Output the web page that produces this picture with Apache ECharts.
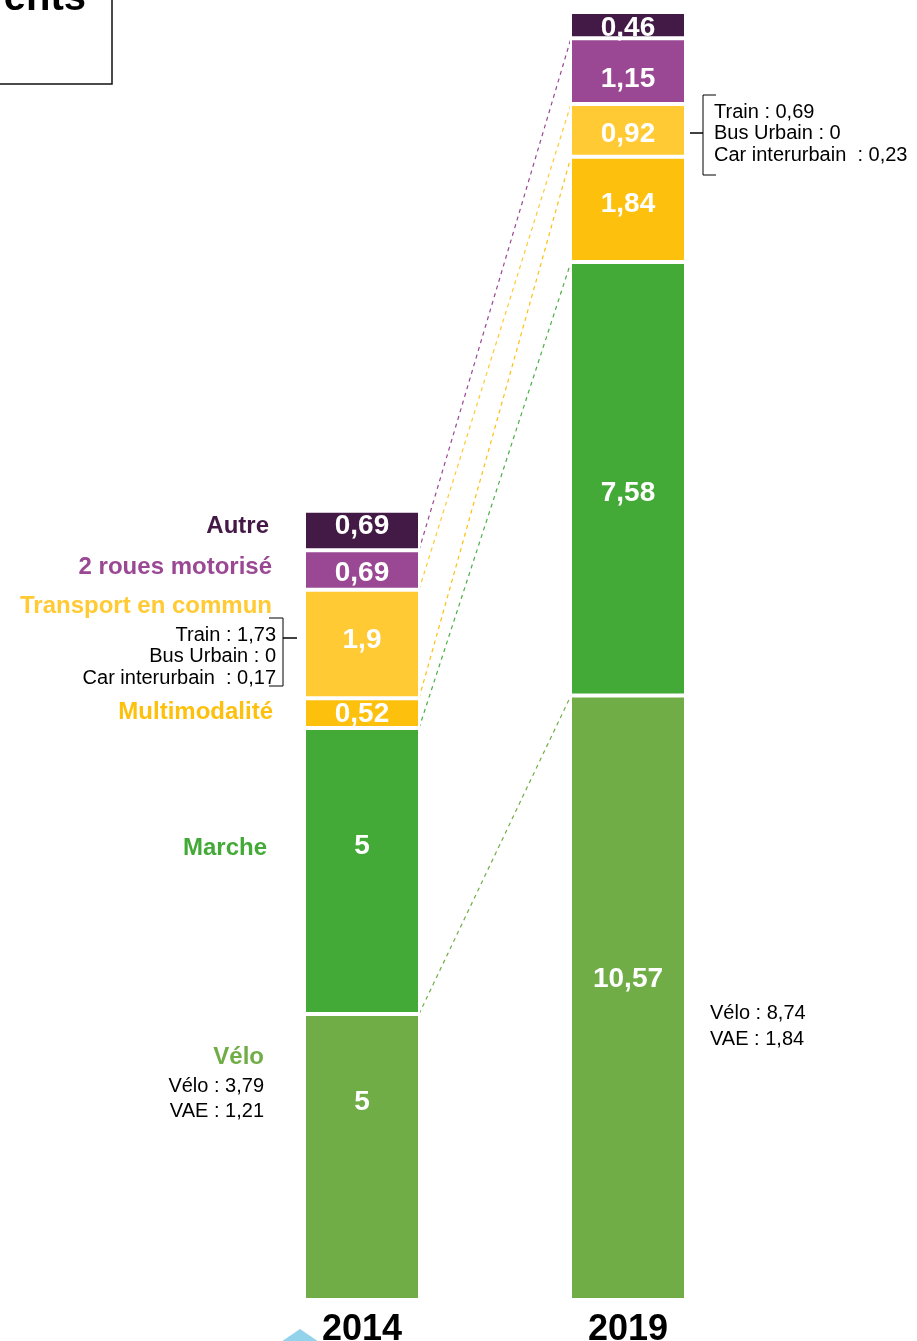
<!DOCTYPE html>
<html><head><meta charset="utf-8">
<script src="https://cdn.jsdelivr.net/npm/echarts@6/dist/echarts.min.js"></script>
<style>html,body{margin:0;padding:0;background:#fff}#c{width:917px;height:1341px}</style>
</head><body><div id="c"></div>
<script>
// ---- data ----
const years = ['2014', '2019'];
const modes = ['Vélo', 'Marche', 'Multimodalité', 'Transport en commun', '2 roues motorisé', 'Autre'];
const velo = [5, 10.57];
const marche = [5, 7.58];
const multimodalite = [0.52, 1.84];
const transportCommun = [1.9, 0.92];
const deuxRoues = [0.69, 1.15];
const autre = [0.69, 0.46];
const detailTC2014 = ['Train : 1,73', 'Bus Urbain : 0', 'Car interurbain  : 0,17'];
const detailTC2019 = ['Train : 0,69', 'Bus Urbain : 0', 'Car interurbain  : 0,23'];
const detailVelo2014 = ['Vélo : 3,79', 'VAE : 1,21'];
const detailVelo2019 = ['Vélo : 8,74', 'VAE : 1,84'];
const titleFragment = 'ents';

// ---- styling / layout ----
const FONT = 'Arial, "Liberation Sans", sans-serif';
const colors = ['#70AD47', '#43AA37', '#FCC00D', '#FFCA33', '#9A4893', '#431A45'];
const lineColors = ['#70AD47', '#4CAF45', '#FCC00D', '#FFCA33', '#9A4893'];
const labelOffsets = [[-55, -18], [-25, 15], [1, -5], [-4, 4], [3, 8], [-4, 3]];
const BAR_W = 116;

const seriesValues = [velo, marche, multimodalite, transportCommun, deuxRoues, autre];

const barSeries = seriesValues.map((vals, i) => ({
  name: modes[i],
  type: 'bar',
  stack: 'total',
  barWidth: BAR_W,
  itemStyle: { color: colors[i], borderColor: '#ffffff', borderWidth: 2 },
  label: {
    show: true, position: 'inside', color: '#ffffff',
    fontFamily: FONT, fontWeight: 'bold', fontSize: 28,
    formatter: p => String(p.value).replace('.', ',')
  },
  data: vals.map((v, j) => ({ value: v, label: { offset: [0, labelOffsets[i][j]] } })),
  z: 3
}));

// cumulative tops of each segment (for the dashed connectors)
const cum = [[], []];
[0, 1].forEach(j => {
  let s = 0;
  seriesValues.forEach((vals, i) => { s += vals[j]; cum[j][i] = s; });
});
const connectorData = [0, 1, 2, 3, 4].map(i => [0, cum[0][i], cum[1][i], i]);

const connectorSeries = {
  type: 'custom',
  silent: true,
  z: 1,
  renderItem: function (params, api) {
    const p1 = api.coord([0, api.value(1)]);
    const p2 = api.coord([1, api.value(2)]);
    const idx = api.value(3);
    return {
      type: 'line',
      shape: { x1: p1[0] + BAR_W / 2 - 1, y1: p1[1], x2: p2[0] - BAR_W / 2 + 1, y2: p2[1] },
      style: { stroke: lineColors[idx], lineWidth: 1.2, lineDash: [4, 4] }
    };
  },
  data: connectorData
};

const leftLabel = (text, x, y, color, size, bold) => ({
  type: 'text', z: 10,
  style: { text, x, y, fill: color, font: (bold ? 'bold ' : '') + size + 'px ' + FONT, align: 'right', verticalAlign: 'middle' }
});
const rightLabel = (text, x, y) => ({
  type: 'text', z: 10,
  style: { text, x, y, fill: '#000', font: '20px ' + FONT, align: 'left', verticalAlign: 'middle' }
});

const graphics = [
  // title box fragment
  { type: 'rect', z: 5, shape: { x: -3, y: -3, width: 115, height: 87 }, style: { fill: '#fff', stroke: '#111', lineWidth: 1.5 } },
  { type: 'text', z: 6, style: { text: titleFragment, x: 86, y: -1, fill: '#000', font: 'bold 40px ' + FONT, align: 'right', verticalAlign: 'middle' } },
  // light blue triangle at bottom
  { type: 'polygon', z: 0, shape: { points: [[275, 1346], [300, 1329], [325, 1346]] }, style: { fill: '#92D3EB' } },
  // 2014 category names
  leftLabel(modes[5], 269, 526, colors[5], 24, true),
  leftLabel(modes[4], 272, 567, colors[4], 24, true),
  leftLabel(modes[3], 272, 606, colors[3], 24, true),
  leftLabel(detailTC2014[0], 276, 635, '#000', 20, false),
  leftLabel(detailTC2014[1], 276, 656, '#000', 20, false),
  leftLabel(detailTC2014[2], 276, 678, '#000', 20, false),
  leftLabel(modes[2], 273, 712, colors[2], 24, true),
  leftLabel(modes[1], 267, 848, colors[1], 24, true),
  leftLabel(modes[0], 264, 1057, colors[0], 24, true),
  leftLabel(detailVelo2014[0], 264, 1086, '#000', 20, false),
  leftLabel(detailVelo2014[1], 264, 1111, '#000', 20, false),
  // 2019 details
  rightLabel(detailTC2019[0], 714, 112),
  rightLabel(detailTC2019[1], 714, 133),
  rightLabel(detailTC2019[2], 714, 155),
  rightLabel(detailVelo2019[0], 710, 1013),
  rightLabel(detailVelo2019[1], 710, 1039),
  // brackets
  { type: 'polyline', z: 10, shape: { points: [[269, 618], [283, 618], [283, 686], [269, 686]] }, style: { stroke: '#000', lineWidth: 1, fill: null } },
  { type: 'line', z: 10, shape: { x1: 283, y1: 638, x2: 297, y2: 638 }, style: { stroke: '#000', lineWidth: 1.5 } },
  { type: 'polyline', z: 10, shape: { points: [[716, 95], [703, 95], [703, 175], [716, 175]] }, style: { stroke: '#000', lineWidth: 1, fill: null } },
  { type: 'line', z: 10, shape: { x1: 690, y1: 133, x2: 703, y2: 133 }, style: { stroke: '#000', lineWidth: 1.5 } }
];

const chart = echarts.init(document.getElementById('c'), null, { renderer: 'canvas' });
chart.setOption({
  animation: false,
  backgroundColor: '#ffffff',
  grid: { left: 229, right: 156, top: 12, bottom: 41, containLabel: false, outerBoundsMode: 'none' },
  xAxis: {
    type: 'category', data: years,
    axisLine: { show: false }, axisTick: { show: false },
    axisLabel: { color: '#000', fontFamily: FONT, fontWeight: 'bold', fontSize: 36, margin: 12 }
  },
  yAxis: { type: 'value', min: 0, max: cum[1][5], show: false, splitLine: { show: false } },
  series: [...barSeries, connectorSeries],
  graphic: graphics
});
</script></body></html>
